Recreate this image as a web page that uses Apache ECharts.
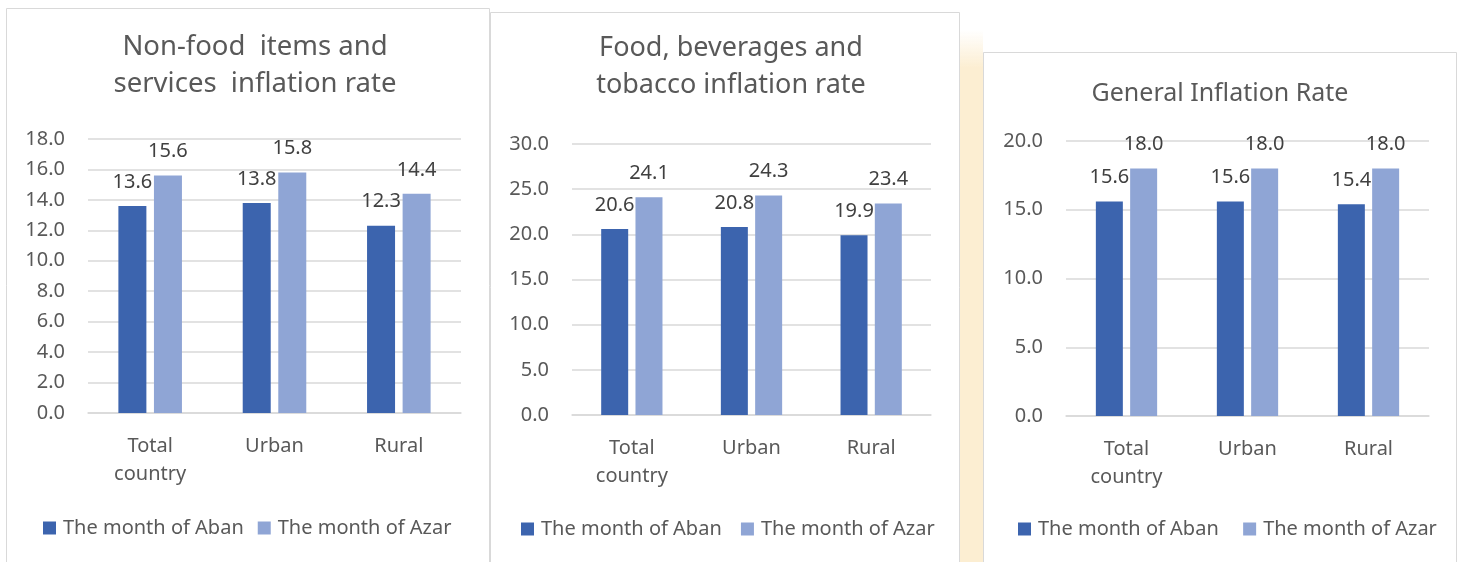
<!DOCTYPE html>
<html>
<head>
<meta charset="utf-8">
<script src="https://cdn.jsdelivr.net/npm/echarts@6/dist/echarts.min.js"></script>
<style>
  html, body { margin: 0; padding: 0; background: #fff }
  #main { width: 1458px; height: 562px }
</style>
</head>
<body>
<div id="main"></div>
<script>
const categories = ['Total\ncountry', 'Urban', 'Rural']
const seriesNames = ['The month of Aban', 'The month of Azar']

// non-food items and services
const nonFoodAban = [13.6, 13.8, 12.3]
const nonFoodAzar = [15.6, 15.8, 14.4]
// food, beverages and tobacco
const foodAban = [20.6, 20.8, 19.9]
const foodAzar = [24.1, 24.3, 23.4]
// general
const generalAban = [15.6, 15.6, 15.4]
const generalAzar = [18.0, 18.0, 18.0]

const titles = ['Non-food  items and\nservices  inflation rate', 'Food, beverages and\ntobacco inflation rate', 'General Inflation Rate']
const yMax = [18, 30, 20]
const yStep = [2, 5, 5]

const FONT = '"Noto Sans", sans-serif'
const TXT = '#595959'
const LINE = '#d9d9d9'
const colors = ['#3c64ae', '#8fa5d5']

// title: [centerX, top, fontSize], legend: [left, top] (both include the 5px padding)
const panels = [
  { grid: { left: 88, top: 139, width: 373, height: 274 }, title: [250, 24, 27.5], legend: [38, 513], bar: 28 },
  { grid: { left: 572, top: 144, width: 359, height: 271 }, title: [726, 25, 27], legend: [516, 514], bar: 27 },
  { grid: { left: 1066, top: 141, width: 363, height: 275 }, title: [1215, 70, 25], legend: [1013, 514], bar: 27 }
]
const data = [[nonFoodAban, nonFoodAzar], [foodAban, foodAzar], [generalAban, generalAzar]]

const chart = echarts.init(document.getElementById('main'))

const option = {
  animation: false,
  color: colors,
  textStyle: { fontFamily: FONT },
  title: [], grid: [], xAxis: [], yAxis: [], legend: [], series: [],
  graphic: [
    // yellow strip between panels
    { type: 'rect', shape: { x: 960, y: 30, width: 23, height: 540 }, silent: true,
      style: { fill: new echarts.graphic.LinearGradient(0, 0, 0, 1, [
        { offset: 0, color: 'rgba(252,238,210,0)' },
        { offset: 0.07, color: 'rgba(252,238,210,1)' },
        { offset: 1, color: 'rgba(252,238,210,1)' }]) } },
    // panel borders
    { type: 'rect', shape: { x: 6.5, y: 8.5, width: 483, height: 580 }, style: { fill: 'transparent', stroke: LINE, lineWidth: 1 } },
    { type: 'rect', shape: { x: 490.5, y: 12.5, width: 469, height: 580 }, style: { fill: '#fff', stroke: LINE, lineWidth: 1 }, z: -1 },
    { type: 'rect', shape: { x: 983.5, y: 52.5, width: 473, height: 540 }, style: { fill: '#fff', stroke: LINE, lineWidth: 1 }, z: -1 }
  ]
}

panels.forEach((p, i) => {
  option.title.push({
    text: titles[i], left: p.title[0], top: p.title[1], textAlign: 'center',
    textStyle: { fontFamily: FONT, fontSize: p.title[2], fontWeight: 'normal', color: TXT, lineHeight: 37 }
  })
  option.grid.push(Object.assign({ containLabel: false }, p.grid))
  option.xAxis.push({
    type: 'category', gridIndex: i, data: categories,
    axisLine: { lineStyle: { color: LINE, width: 1.5 } }, axisTick: { show: false },
    axisLabel: { color: TXT, fontSize: 20, lineHeight: 28, margin: 19, fontFamily: FONT }
  })
  option.yAxis.push({
    type: 'value', gridIndex: i, min: 0, max: yMax[i], interval: yStep[i],
    axisLine: { show: false }, axisTick: { show: false },
    splitLine: { lineStyle: { color: LINE, width: 1.5 } },
    axisLabel: { color: TXT, fontSize: 20, margin: 23, fontFamily: FONT, formatter: v => v.toFixed(1) }
  })
  option.legend.push({
    data: seriesNames.map(n => n + ' '.repeat(i)), left: p.legend[0], top: p.legend[1], width: 600,
    itemWidth: 13, itemHeight: 13, itemGap: 14, icon: 'rect',
    textStyle: { color: TXT, fontSize: 20, fontFamily: FONT, padding: [0, 0, 0, 2] }
  })
  data[i].forEach((vals, s) => {
    option.series.push({
      name: seriesNames[s] + ' '.repeat(i), type: 'bar', xAxisIndex: i, yAxisIndex: i,
      data: vals, barWidth: p.bar, barGap: '27%',
      itemStyle: { color: colors[s] },
      label: { show: true, position: 'top', distance: 14, color: '#404040', fontSize: 20, fontFamily: FONT,
        formatter: d => d.value.toFixed(1) }
    })
  })
})

chart.setOption(option)
</script>
</body>
</html>
